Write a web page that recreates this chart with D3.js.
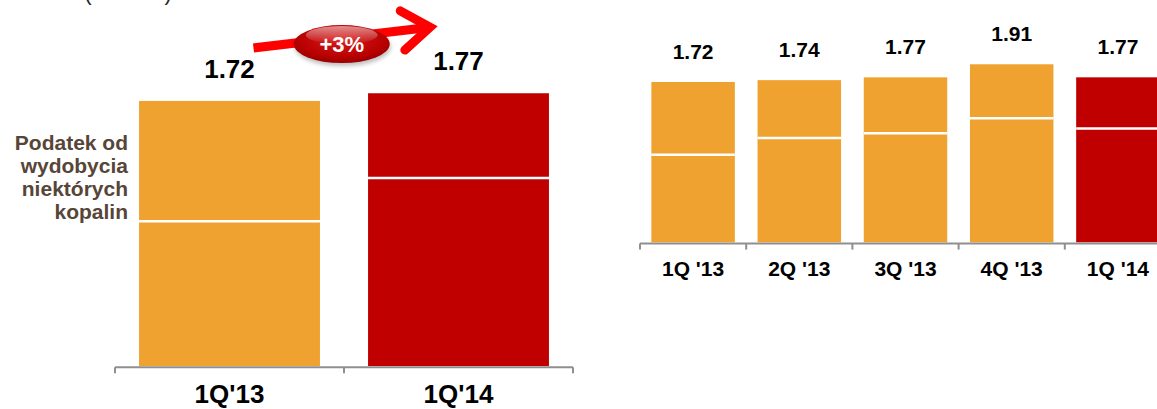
<!DOCTYPE html>
<html>
<head>
<meta charset="utf-8">
<script src="https://cdn.jsdelivr.net/npm/d3@7/dist/d3.min.js"></script>
<style>
  html, body { margin: 0; padding: 0; background: #fff; }
  svg { display: block; font-family: "Liberation Sans", Arial, sans-serif; }
</style>
</head>
<body>
<svg id="chart" width="1157" height="409"></svg>
<script>
// C1 unit cost, quarterly comparison
const unitLabel = "(USD/lb)";
const changeLabel = "+3%";
const taxLabel = ["Podatek od", "wydobycia", "niektórych", "kopalin"];

// year-on-year panel
const quartersYoY = ["1Q'13", "1Q'14"];
const totalYoY = [1.72, 1.77];
const baseYoY = [0.94, 1.22];      // cost excluding extraction tax

// quarterly panel
const quartersQ = ["1Q '13", "2Q '13", "3Q '13", "4Q '13", "1Q '14"];
const totalQ = [1.72, 1.74, 1.77, 1.91, 1.77];
const baseQ = [0.94, 1.12, 1.17, 1.33, 1.22];

const ORANGE = "#EFA230";
const RED = "#C00000";
const AXIS = "#8f8f8f";

const svg = d3.select("#chart");
const defs = svg.append("defs");

// unit caption (top edge)
svg.append("text")
  .attr("x", 84).attr("y", 0)
  .attr("font-size", 23).attr("fill", "#222")
  .text(unitLabel);

function panel(cfg) {
  const g = svg.append("g");
  const x = d3.scaleBand().domain(cfg.cats)
    .range(cfg.xRange).paddingInner(cfg.padIn).paddingOuter(cfg.padIn / 2);
  const y = d3.scaleLinear().domain([0, 2]).range([cfg.bottom, cfg.bottom - 2 * cfg.pxPerUnit]);
  const last = cfg.cats.length - 1;
  const rows = cfg.cats.map((c, i) => ({ cat: c, base: cfg.base[i], total: cfg.total[i], i }));
  const fill = d => d.i === last ? RED : ORANGE;

  // lower segment
  g.selectAll("rect.lo").data(rows).join("rect")
    .attr("x", d => x(d.cat)).attr("width", x.bandwidth())
    .attr("y", d => y(d.base)).attr("height", d => y(0) - y(d.base))
    .attr("fill", fill);
  // upper segment (extraction tax)
  g.selectAll("rect.hi").data(rows).join("rect")
    .attr("x", d => x(d.cat)).attr("width", x.bandwidth())
    .attr("y", d => y(d.total)).attr("height", d => y(d.base) - y(d.total))
    .attr("fill", fill);
  // white separator between segments
  g.selectAll("line.sep").data(rows).join("line")
    .attr("x1", d => x(d.cat)).attr("x2", d => x(d.cat) + x.bandwidth())
    .attr("y1", d => y(d.base)).attr("y2", d => y(d.base))
    .attr("stroke", "#fff").attr("stroke-width", 2.5);

  // value labels
  g.selectAll("text.val").data(rows).join("text")
    .attr("x", d => x(d.cat) + x.bandwidth() / 2)
    .attr("y", d => y(d.total) - cfg.valGap)
    .attr("text-anchor", "middle").attr("font-weight", "bold")
    .attr("font-size", cfg.valSize).attr("fill", "#000")
    .text(d => d.total.toFixed(2));

  // axis with boundary ticks
  const step = x.step();
  const bounds = cfg.cats.map(c => x(c) - step * cfg.padIn / 2);
  bounds.push(bounds[bounds.length - 1] + step);
  const axisY = y(0) + 1.3;
  g.append("line")
    .attr("x1", bounds[0]).attr("x2", Math.min(bounds[bounds.length - 1], 1157))
    .attr("y1", axisY).attr("y2", axisY)
    .attr("stroke", AXIS).attr("stroke-width", 2);
  g.selectAll("line.tick").data(bounds).join("line")
    .attr("x1", d => d).attr("x2", d => d)
    .attr("y1", axisY).attr("y2", axisY + 6)
    .attr("stroke", AXIS).attr("stroke-width", 2);
  g.selectAll("text.cat").data(rows).join("text")
    .attr("x", d => x(d.cat) + x.bandwidth() / 2)
    .attr("y", cfg.catY)
    .attr("text-anchor", "middle").attr("font-weight", "bold")
    .attr("font-size", cfg.catSize).attr("fill", "#000")
    .text(d => d.cat);
  return { x, y, rows };
}

const left = panel({
  cats: quartersYoY, total: totalYoY, base: baseYoY,
  xRange: [115, 573], padIn: 0.21, bottom: 366, pxPerUnit: 154.1,
  valGap: 23, valSize: 26, catY: 403, catSize: 26
});

panel({
  cats: quartersQ, total: totalQ, base: baseQ,
  xRange: [640, 640 + 5 * 106.2], padIn: 0.214, bottom: 242.3, pxPerUnit: 93.2,
  valGap: 23.4, valSize: 21, catY: 276, catSize: 21
});

// extraction-tax caption beside the upper segment
svg.append("text")
  .attr("text-anchor", "end").attr("font-weight", "bold")
  .attr("font-size", 21).attr("fill", "#574538")
  .selectAll("tspan").data(taxLabel).join("tspan")
  .attr("x", 128).attr("y", (d, i) => 150 + i * 23.1)
  .text(d => d);

// growth arrow between the two totals
const lx = left.x, ly = left.y, bw = lx.bandwidth();
const p0 = [lx(quartersYoY[0]) + bw / 2 + 24, ly(totalYoY[0]) - 53];
const p1 = [lx(quartersYoY[1]) + bw / 2 - 28.5, ly(totalYoY[1]) - 66];
const ang = Math.atan2(p1[1] - p0[1], p1[0] - p0[0]);
const head = 34, spread = 0.62;
const arm = s => [p1[0] - head * Math.cos(ang + s), p1[1] - head * Math.sin(ang + s)];
svg.append("line")
  .attr("x1", p0[0]).attr("y1", p0[1]).attr("x2", p1[0] - 4 * Math.cos(ang)).attr("y2", p1[1] - 4 * Math.sin(ang))
  .attr("stroke", "#ff0000").attr("stroke-width", 9);
svg.append("path")
  .attr("d", d3.line()([arm(-spread), p1, arm(spread)]))
  .attr("fill", "none").attr("stroke", "#ff0000").attr("stroke-width", 9)
  .attr("stroke-linejoin", "miter").attr("stroke-linecap", "round");

// glossy badge
const bodyGrad = defs.append("radialGradient").attr("id", "badge")
  .attr("cx", "50%").attr("cy", "40%").attr("r", "65%");
bodyGrad.append("stop").attr("offset", "0%").attr("stop-color", "#d81818");
bodyGrad.append("stop").attr("offset", "70%").attr("stop-color", "#b80000");
bodyGrad.append("stop").attr("offset", "100%").attr("stop-color", "#8a0000");
const shine = defs.append("linearGradient").attr("id", "shine")
  .attr("x1", 0).attr("y1", 0).attr("x2", 0).attr("y2", 1);
shine.append("stop").attr("offset", "0%").attr("stop-color", "#fff").attr("stop-opacity", 0.55);
shine.append("stop").attr("offset", "100%").attr("stop-color", "#fff").attr("stop-opacity", 0);
const shadow = defs.append("filter").attr("id", "soft").attr("x", "-20%").attr("y", "-30%").attr("width", "140%").attr("height", "170%");
shadow.append("feGaussianBlur").attr("stdDeviation", 2);

const cx = (p0[0] + p1[0]) / 2, cy = (p0[1] + p1[1]) / 2 + 6.5;
svg.append("ellipse").attr("cx", cx + 1).attr("cy", cy + 3).attr("rx", 48).attr("ry", 19)
  .attr("fill", "#000").attr("opacity", 0.25).attr("filter", "url(#soft)");
svg.append("ellipse").attr("cx", cx).attr("cy", cy).attr("rx", 48).attr("ry", 19)
  .attr("fill", "url(#badge)");
svg.append("ellipse").attr("cx", cx).attr("cy", cy - 9).attr("rx", 36).attr("ry", 9)
  .attr("fill", "url(#shine)");
svg.append("text")
  .attr("x", cx).attr("y", cy + 7.5)
  .attr("text-anchor", "middle").attr("font-weight", "bold")
  .attr("font-size", 22).attr("fill", "#fff")
  .text(changeLabel);
</script>
</body>
</html>
